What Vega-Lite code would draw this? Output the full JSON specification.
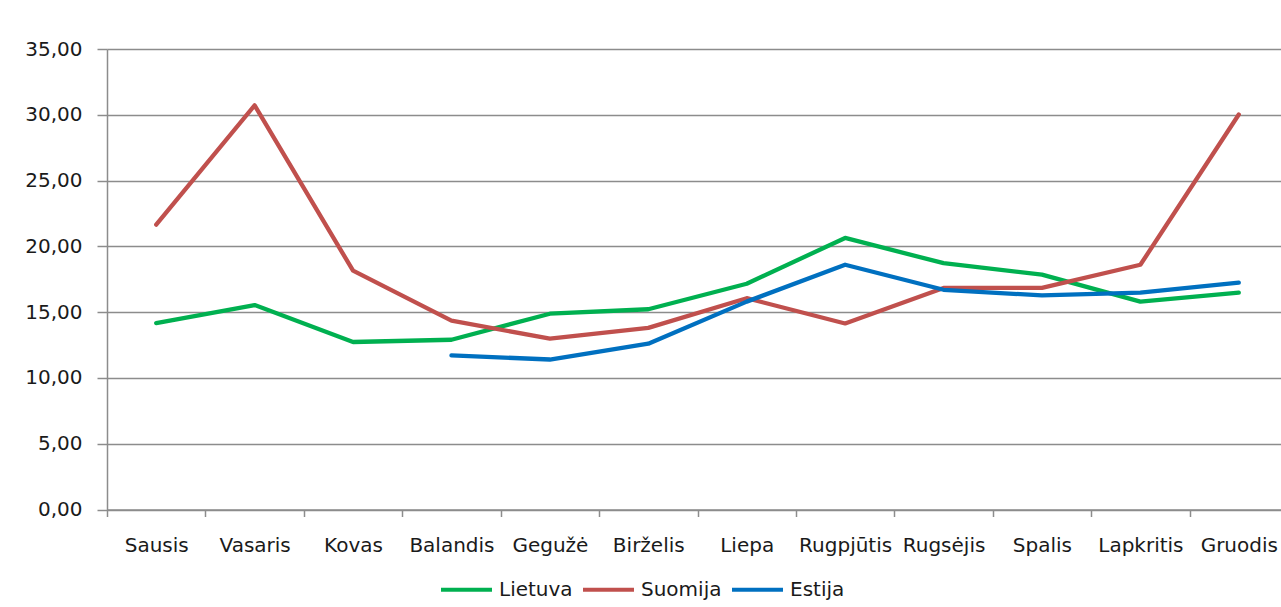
{
  "$schema": "https://vega.github.io/schema/vega-lite/v6.json",
  "autosize": "none",
  "width": 1174,
  "height": 460.5,
  "padding": {"left": 107, "top": 49, "right": 0, "bottom": 97},
  "background": "white",
  "config": {
    "view": {"stroke": null},
    "font": "DejaVu Sans",
    "axis": {"labelFont": "DejaVu Sans", "labelFontSize": 20, "labelColor": "#1a1a1a", "domainColor": "#8c8c8c", "tickColor": "#8c8c8c", "gridColor": "#8c8c8c", "domainWidth": 1.5, "tickWidth": 1.5, "gridWidth": 1.3, "gridOpacity": 1}
  },
  "data": {
    "values": [
      {"menuo": "Sausis", "salis": "Lietuva", "v": 14.17},
      {"menuo": "Vasaris", "salis": "Lietuva", "v": 15.54},
      {"menuo": "Kovas", "salis": "Lietuva", "v": 12.73},
      {"menuo": "Balandis", "salis": "Lietuva", "v": 12.9},
      {"menuo": "Gegužė", "salis": "Lietuva", "v": 14.88},
      {"menuo": "Birželis", "salis": "Lietuva", "v": 15.22},
      {"menuo": "Liepa", "salis": "Lietuva", "v": 17.16},
      {"menuo": "Rugpjūtis", "salis": "Lietuva", "v": 20.64},
      {"menuo": "Rugsėjis", "salis": "Lietuva", "v": 18.72},
      {"menuo": "Spalis", "salis": "Lietuva", "v": 17.85},
      {"menuo": "Lapkritis", "salis": "Lietuva", "v": 15.8},
      {"menuo": "Gruodis", "salis": "Lietuva", "v": 16.48},
      {"menuo": "Sausis", "salis": "Suomija", "v": 21.65},
      {"menuo": "Vasaris", "salis": "Suomija", "v": 30.72},
      {"menuo": "Kovas", "salis": "Suomija", "v": 18.15},
      {"menuo": "Balandis", "salis": "Suomija", "v": 14.35},
      {"menuo": "Gegužė", "salis": "Suomija", "v": 12.98},
      {"menuo": "Birželis", "salis": "Suomija", "v": 13.8},
      {"menuo": "Liepa", "salis": "Suomija", "v": 16.06},
      {"menuo": "Rugpjūtis", "salis": "Suomija", "v": 14.14},
      {"menuo": "Rugsėjis", "salis": "Suomija", "v": 16.84},
      {"menuo": "Spalis", "salis": "Suomija", "v": 16.84},
      {"menuo": "Lapkritis", "salis": "Suomija", "v": 18.6},
      {"menuo": "Gruodis", "salis": "Suomija", "v": 30.02},
      {"menuo": "Balandis", "salis": "Estija", "v": 11.71},
      {"menuo": "Gegužė", "salis": "Estija", "v": 11.4},
      {"menuo": "Birželis", "salis": "Estija", "v": 12.6},
      {"menuo": "Liepa", "salis": "Estija", "v": 15.8},
      {"menuo": "Rugpjūtis", "salis": "Estija", "v": 18.6},
      {"menuo": "Rugsėjis", "salis": "Estija", "v": 16.7},
      {"menuo": "Spalis", "salis": "Estija", "v": 16.27},
      {"menuo": "Lapkritis", "salis": "Estija", "v": 16.48},
      {"menuo": "Gruodis", "salis": "Estija", "v": 17.24}
    ]
  },
  "mark": {"type": "line", "strokeWidth": 4.3, "strokeJoin": "round", "strokeCap": "round"},
  "encoding": {
    "x": {
      "field": "menuo",
      "type": "nominal",
      "sort": ["Sausis", "Vasaris", "Kovas", "Balandis", "Gegužė", "Birželis", "Liepa", "Rugpjūtis", "Rugsėjis", "Spalis", "Lapkritis", "Gruodis"],
      "bandPosition": 0.5,
      "scale": {"type": "band", "paddingInner": 0, "paddingOuter": 0, "range": [0, 1181]},
      "axis": {"title": null, "labelAngle": 0, "labelOverlap": false, "labelFlush": false, "tickBand": "extent", "tickSize": 7, "labelPadding": 19, "grid": false}
    },
    "y": {
      "field": "v",
      "type": "quantitative",
      "scale": {"domain": [0, 35], "nice": false},
      "axis": {"title": null, "values": [0, 5, 10, 15, 20, 25, 30, 35], "labelExpr": "replace(format(datum.value, '.2f'), '.', ',')", "tickSize": 10, "labelPadding": 15, "grid": true}
    },
    "color": {
      "field": "salis",
      "type": "nominal",
      "scale": {"domain": ["Lietuva", "Suomija", "Estija"], "range": ["#00B050", "#C0504D", "#0070C0"]},
      "legend": {"title": null, "orient": "none", "direction": "horizontal", "legendX": 332, "legendY": 513, "symbolType": "stroke", "symbolSize": 2600, "symbolStrokeWidth": 4, "labelFontSize": 20, "labelFont": "DejaVu Sans", "labelColor": "#1a1a1a", "labelOffset": 5, "columnPadding": 2}
    }
  }
}
